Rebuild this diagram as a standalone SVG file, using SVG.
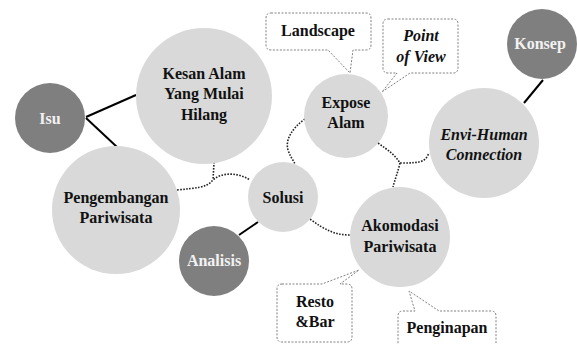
<svg xmlns="http://www.w3.org/2000/svg" width="577" height="344" viewBox="0 0 577 344">
<style>
.light{fill:#d9d9d9}
.dark{fill:#7f7f7f}
text{font-family:'Liberation Serif','DejaVu Serif',serif;font-weight:bold;font-size:16px;text-anchor:middle;fill:#111}
.w{fill:#f2f2f2}
.i{font-style:italic}
.solid{stroke:#000;stroke-width:2;fill:none}
.dot{stroke:#222;stroke-width:1.6;fill:none;stroke-dasharray:1.6 1.4}
.call{fill:#fff;stroke:#808080;stroke-width:1;stroke-dasharray:2 1.5}
</style>
<rect width="577" height="344" fill="#fff"/>
<g id="connectors">
<line class="solid" x1="86" y1="117" x2="136" y2="95"/>
<line class="solid" x1="86" y1="118" x2="117" y2="147"/>
<line class="solid" x1="239" y1="235" x2="258" y2="222"/>
<line class="solid" x1="543" y1="80" x2="524" y2="103"/>
<path class="dot" d="M177,190 C195,188 206,188 212,181 C220,172 238,172 250,180"/>
<path class="dot" d="M214,162 L213,180"/>
<path class="dot" d="M305,119 C292,128 285,140 288,150 C290,156 293,160 295,164"/>
<path class="dot" d="M378,143 C388,150 395,155 400,163 C410,163 420,163 424,160 C427,158 428,155 429,153"/>
<path class="dot" d="M400,163 C398,172 395,179 393,187"/>
<path class="dot" d="M310,219 C325,230 335,235 350,235"/>
</g>
<g id="isu"><circle class="dark" cx="50" cy="118" r="35"/><text class="w" x="50" y="124">Isu</text></g>
<g id="kesan"><circle class="light" cx="204" cy="96" r="68"/><text x="204" y="79">Kesan Alam</text><text x="204" y="99">Yang Mulai</text><text x="204" y="120">Hilang</text></g>
<g id="pengembangan"><circle class="light" cx="116" cy="210" r="64"/><text x="116" y="203">Pengembangan</text><text x="116" y="223">Pariwisata</text></g>
<g id="analisis"><circle class="dark" cx="214" cy="261" r="35"/><text class="w" x="214" y="266">Analisis</text></g>
<g id="solusi"><circle class="light" cx="283" cy="197" r="35"/><text x="283" y="203">Solusi</text></g>
<g id="expose"><circle class="light" cx="346" cy="116" r="42"/><text x="346" y="108">Expose</text><text x="346" y="128">Alam</text></g>
<g id="envi"><circle class="light" cx="484" cy="143" r="55"/><text class="i" x="484" y="140">Envi-Human</text><text class="i" x="484" y="160">Connection</text></g>
<g id="konsep"><circle class="dark" cx="542" cy="44" r="35"/><text class="w" x="540" y="49">Konsep</text></g>
<g id="akomodasi"><circle class="light" cx="400" cy="237" r="50"/><text x="400" y="231">Akomodasi</text><text x="400" y="252">Pariwisata</text></g>
<g id="landscape"><path class="call" d="M271,13 H366 Q371,13 371,18 V45 Q371,50 366,50 H353 L350,73 L328,50 H271 Q266,50 266,45 V18 Q266,13 271,13 Z"/><text x="318" y="36">Landscape</text></g>
<g id="pov"><path class="call" d="M388,19 H453 Q458,19 458,24 V68 Q458,73 453,73 H410 L382,92 L397,73 H388 Q383,73 383,68 V24 Q383,19 388,19 Z"/><text class="i" x="421" y="41">Point</text><text class="i" x="421" y="62">of View</text></g>
<g id="resto"><path class="call" d="M282,284 H322 L359,270 L340,284 H347 Q352,284 352,289 V337 Q352,342 347,342 H282 Q277,342 277,337 V289 Q277,284 282,284 Z"/><text x="315" y="307">Resto</text><text x="315" y="327">&amp;Bar</text></g>
<g id="penginapan"><path class="call" d="M403,311 H415 L409,291 L439,311 H491 Q496,311 496,316 V348 Q496,353 491,353 H403 Q398,353 398,348 V316 Q398,311 403,311 Z"/><text x="447" y="333">Penginapan</text></g>
</svg>
